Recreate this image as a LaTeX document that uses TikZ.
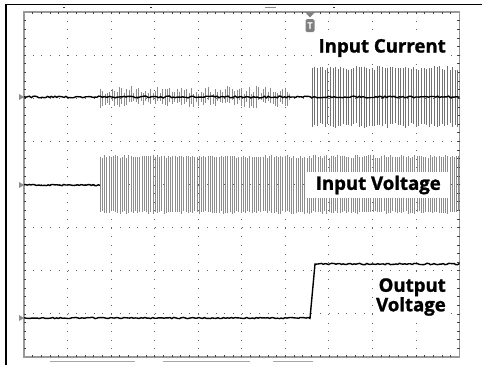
\documentclass[tikz,border=0pt]{standalone}
\usepackage{fontspec}
\setmainfont{Open Sans}[BoldFeatures={FakeBold=1.3}]
\usetikzlibrary{calc}

\begin{document}
\begin{tikzpicture}[x=1pt, y=-1pt,
	vgrid/.style={color=black!60, line width=0.9pt, dash pattern=on 0.9pt off 7.725pt},
	hgrid/.style={color=black!60, line width=0.9pt, dash pattern=on 0.9pt off 7.81pt},
	frameline/.style={color=black!40, line width=1.6pt},
	frametick/.style={color=black!75, line width=0.7pt},
	trace/.style={line width=1.4pt, color=black},
	burst/.style={line width=0.45pt, color=black!45},
	tracelabel/.style={font=\bfseries\fontsize{18.6}{19.5}\selectfont, fill=white, inner sep=2pt, align=right}]
			%%%%% START %%%%%
			\pgfmathsetseed{11}
			\useasboundingbox (0,0) rectangle (482,365);
			\draw[line width=1.2pt] (6,365) -- (6,4.5) -- (482,4.5);
			
			% grid
			\foreach \i in {1,...,9}
				\draw[vgrid] ({24+43.55*\i},12) -- ({24+43.55*\i},357);
			\foreach \j in {1,...,7}
				\draw[hgrid] (24,{12+43.125*\j}) -- (459.5,{12+43.125*\j});
			
			\draw[frameline] (24,12) rectangle (459.5,357);
			\foreach \k in {1,...,49} {
				\draw[frametick] ({24+8.71*\k},12) -- ++(0,2.2);
				\draw[frametick] ({24+8.71*\k},357) -- ++(0,-2.2);
			}
			\foreach \k in {1,...,39} {
				\draw[frametick] (24,{12+8.625*\k}) -- ++(2.2,0);
				\draw[frametick] (459.5,{12+8.625*\k}) -- ++(-2.2,0);
			}
			
			% marks outside the frame
			\foreach \x in {63,150,333}
				\draw[black!80, line width=0.8pt] (\x,7.5) -- ++(2,0);
			\draw[black!45, line width=1pt] (265,7.5) -- (276,7.5);
			\draw[black!35, line width=1.4pt] (50,361.5) -- (135,361.5);
			\draw[black!35, line width=1.4pt] (163,361.5) -- (250,361.5);
			\draw[black!35, line width=1.4pt] (273,361.5) -- (313,361.5);
			\foreach \y in {97,185,318}
				\fill[black!45] (19,\y-3) -- (24,\y) -- (19,\y+3) -- cycle;
			
			% trigger marker
			\fill[black!50] (305,12) -- (315,12) -- (310,17.5) -- cycle;
			\node[fill=black!50, text=white, rounded corners=1.5pt, inner sep=0pt,
				minimum width=9pt, minimum height=13pt, font=\bfseries\fontsize{9}{9}\selectfont]
				(trig) at (310,25.5) {T};
			
			% input current
			\foreach \x in {100,102.4,...,290} {
				\pgfmathsetmacro\hup{3+8*rnd}
				\pgfmathsetmacro\hdn{3+8*rnd}
				\draw[burst] (\x,{97-\hup}) -- (\x,{97+\hdn});
			}
			\foreach \x in {312,314.6,...,459} {
				\pgfmathsetmacro\hup{27+4*rnd}
				\pgfmathsetmacro\hdn{26+5*rnd}
				\draw[burst, color=black!55] (\x,{97-\hup}) -- (\x,{97+\hdn});
			}
			\draw[trace] plot[domain=24:459.5, samples=240] (\x,{97+0.9*rand});
			
			% input voltage
			\foreach \x in {100,102.2,...,459} {
				\pgfmathsetmacro\hup{27+3*rnd}
				\pgfmathsetmacro\hdn{26+3*rnd}
				\draw[burst] (\x,{185-\hup}) -- (\x,{185+\hdn});
			}
			\draw[trace] plot[domain=24:100, samples=45] (\x,{185+0.7*rand});
			
			% output voltage
			\draw[trace] plot[domain=24:310, samples=150] (\x,{318+0.6*rand})
				-- (315,264) -- plot[domain=316:459.5, samples=80] (\x,{264+0.7*rand});
			
			% labels
			\node[tracelabel, anchor=east] (lblcur) at (448,48) {Input Current};
			\node[tracelabel, anchor=east, inner xsep=9pt, inner ysep=4pt] (lblvin) at (450,185) {Input Voltage};
			\node[tracelabel, anchor=east] (lblvout) at (448,297) {Output\\Voltage};
			%%%%% END %%%%%
\end{tikzpicture}
\end{document}
